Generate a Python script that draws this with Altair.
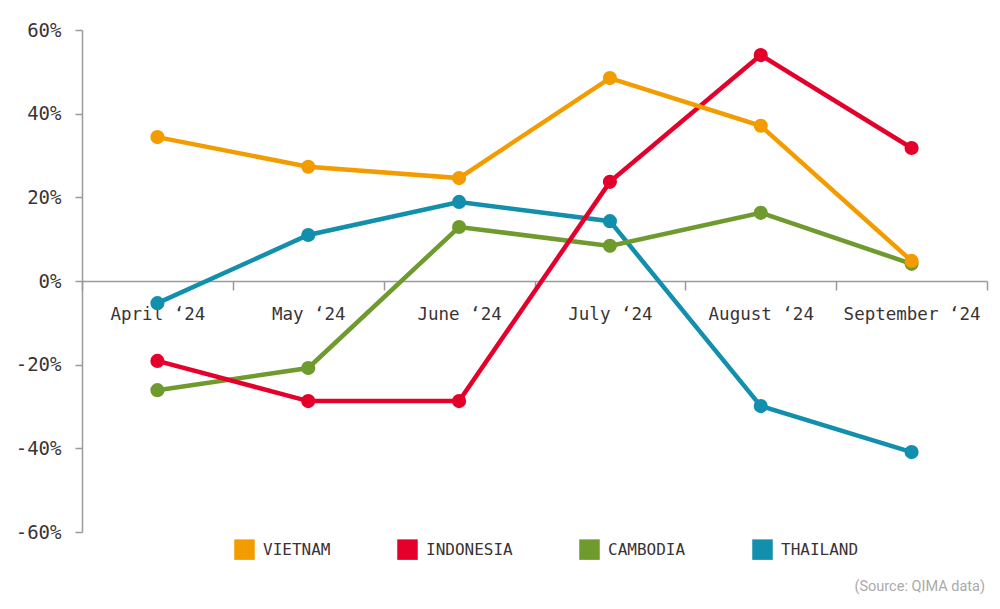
import altair as alt
import pandas as pd

months = ["April ‘24", "May ‘24", "June ‘24", "July ‘24", "August ‘24", "September ‘24"]
countries = ["VIETNAM", "INDONESIA", "CAMBODIA", "THAILAND"]
colors = ["#F39C00", "#E4002B", "#6E9A2E", "#138FAE"]

vietnam = [34.4, 27.3, 24.6, 48.5, 37.1, 4.8]
indonesia = [-19.1, -28.7, -28.7, 23.7, 54.0, 31.8]
cambodia = [-26.1, -20.8, 12.9, 8.4, 16.3, 4.1]
thailand = [-5.3, 11.0, 18.9, 14.3, -29.9, -40.9]

series = {"VIETNAM": vietnam, "INDONESIA": indonesia, "CAMBODIA": cambodia, "THAILAND": thailand}
rows = []
for c, vals in series.items():
    for m, v in zip(months, vals):
        rows.append({"country": c, "month": m, "value": v})
df = pd.DataFrame(rows)

color_scale = alt.Scale(domain=countries, range=colors)

x_enc = alt.X(
    "month:N",
    sort=months,
    scale=alt.Scale(paddingInner=0, paddingOuter=0),
    axis=alt.Axis(
        title=None,
        labelAngle=0,
        offset=-251,
        domainColor="#9a9a9a",
        domainWidth=1.5,
        tickColor="#9a9a9a",
        tickWidth=1.5,
        tickSize=9,
        tickBand="extent",
        labelFont="DejaVu Sans Mono",
        labelFontSize=17.5,
        labelColor="#3a3335",
        labelPadding=15,
    ),
)
y_enc = alt.Y(
    "value:Q",
    scale=alt.Scale(domain=[-60, 60], nice=False),
    axis=alt.Axis(
        title=None,
        values=[-60, -40, -20, 0, 20, 40, 60],
        labelExpr="datum.value + '%'",
        grid=False,
        domainColor="#9a9a9a",
        domainWidth=1.5,
        tickColor="#9a9a9a",
        tickWidth=1.5,
        tickSize=7,
        labelPadding=14,
        labelFont="DejaVu Sans Mono",
        labelFontSize=19,
        labelFontWeight=500,
        labelColor="#3a3335",
    ),
)

layers = []
draw_order = ["THAILAND", "CAMBODIA", "INDONESIA", "VIETNAM"]
for i, c in enumerate(draw_order):
    base = alt.Chart(df).transform_filter(alt.datum.country == c)
    if i == 0:
        color = alt.Color(
            "country:N",
            scale=color_scale,
            legend=alt.Legend(
                title=None,
                orient="none",
                legendX=152,
                legendY=509,
                direction="horizontal",
                symbolType="square",
                symbolSize=420,
                symbolStrokeWidth=0,
                symbolOpacity=1,
                labelFont="DejaVu Sans Mono",
                labelFontSize=16,
                labelColor="#3a3335",
                columnPadding=66,
                labelOffset=8,
            ),
        )
    else:
        color = alt.Color("country:N", scale=color_scale, legend=None)
    line = base.mark_line(strokeWidth=4.5).encode(x=x_enc, y=y_enc, color=color)
    pts = base.mark_circle(size=200, opacity=1).encode(x=x_enc, y=y_enc, color=color)
    layers += [line, pts]

source = alt.Chart(pd.DataFrame({"t": ["(Source: QIMA data)"]})).mark_text(
    align="right", baseline="middle", font="Roboto", fontSize=14.5, color="#aaaaaa"
).encode(text="t:N", x=alt.value(903), y=alt.value(557))

chart = alt.layer(*layers, source).properties(
    width=905,
    height=502,
    background="white",
    autosize=alt.AutoSizeParams(type="none"),
    padding={"left": 82, "top": 30, "right": 13, "bottom": 77},
).configure_view(strokeWidth=0, stroke="transparent")

chart.save("out.html", embed_options={"renderer": "svg", "actions": False})
